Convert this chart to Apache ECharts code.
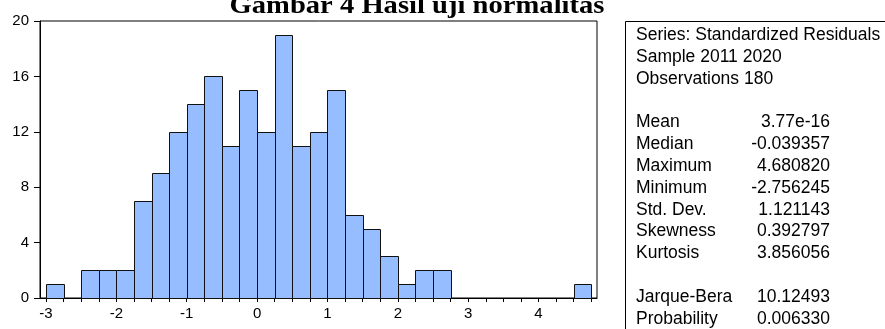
<!DOCTYPE html>
<html><head><meta charset="utf-8">
<script src="https://cdn.jsdelivr.net/npm/echarts@6/dist/echarts.min.js"></script>
<style>html,body{margin:0;padding:0;background:#fff}#c{width:885px;height:329px}</style>
</head><body><div id="c"></div>
<script>
const titleText = "Gambar 4 Hasil uji normalitas";
const binWidth = 0.25;
const binLower = [-3,-2.75,-2.5,-2.25,-2,-1.75,-1.5,-1.25,-1,-0.75,-0.5,-0.25,0,0.25,0.5,0.75,1,1.25,1.5,1.75,2,2.25,2.5,2.75,3,3.25,3.5,3.75,4,4.25,4.5];
const binCounts = [1,0,2,2,2,7,9,12,14,16,11,15,12,19,11,12,15,6,5,3,1,2,2,0,0,0,0,0,0,0,1];
const xTickValues = [-3,-2.75,-2.5,-2.25,-2,-1.75,-1.5,-1.25,-1,-0.75,-0.5,-0.25,0,0.25,0.5,0.75,1,1.25,1.5,1.75,2,2.25,2.5,2.75,3,3.25,3.5,3.75,4,4.25,4.5,4.75];
const xLabelValues = [-3,-2,-1,0,1,2,3,4];
const xMin = -3.085, xMax = 4.831;
const yMin = 0, yMax = 20, yStep = 4;
const headerLines = ["Series: Standardized Residuals", "Sample 2011 2020", "Observations 180"];
const statLabels = ["Mean","Median","Maximum","Minimum","Std. Dev.","Skewness","Kurtosis"];
const statValues = ["3.77e-16","-0.039357","4.680820","-2.756245","1.121143","0.392797","3.856056"];
const testLabels = ["Jarque-Bera","Probability"];
const testValues = ["10.12493","0.006330"];

const chart = echarts.init(document.getElementById('c'), null, {renderer:'canvas'});
const sansFont = '"Liberation Sans", Arial, sans-serif';
const boxFont = '17.5px ' + sansFont;

const graphics = [];
graphics.push({type:'text', x:417, y:6, scaleX:1.1, z:10,
  style:{text:titleText, font:'bold 26px "Liberation Serif", "Times New Roman", serif', fill:'#000', align:'center', verticalAlign:'middle'}});
graphics.push({type:'rect', shape:{x:625.5, y:21.5, width:300, height:330}, style:{fill:'#fff', stroke:'#000', lineWidth:1}});
const lineY0 = 35.4, lineStep = 21.8;
const rows = [];
headerLines.forEach(t => rows.push([t, null]));
rows.push(null);
statLabels.forEach((t,i) => rows.push([t, statValues[i]]));
rows.push(null);
testLabels.forEach((t,i) => rows.push([t, testValues[i]]));
rows.forEach((r, i) => {
  if (!r) return;
  const y = lineY0 + i*lineStep;
  graphics.push({type:'text', x:636, y:y, style:{text:r[0], font:boxFont, fill:'#000', align:'left', verticalAlign:'middle'}});
  if (r[1] !== null) graphics.push({type:'text', x:830, y:y, style:{text:r[1], font:boxFont, fill:'#000', align:'right', verticalAlign:'middle'}});
});

chart.setOption({
  animation:false,
  backgroundColor:'#fff',
  grid:{left:40, top:21, width:557, height:277, show:true, borderColor:'#000', borderWidth:1, backgroundColor:'transparent'},
  xAxis:{type:'value', min:xMin, max:xMax,
    axisLine:{show:true, onZero:false, lineStyle:{color:'#000', width:1}},
    axisTick:{show:true, length:4, lineStyle:{color:'#000'}, customValues:xTickValues},
    axisLabel:{show:true, customValues:xLabelValues, margin:8, fontSize:15, fontFamily:sansFont, color:'#000'},
    splitLine:{show:false}},
  yAxis:{type:'value', min:yMin, max:yMax, interval:yStep,
    axisLine:{show:true, onZero:false, lineStyle:{color:'#000', width:1}},
    axisTick:{show:true, length:6, lineStyle:{color:'#000'}},
    axisLabel:{margin:11, fontSize:15, fontFamily:sansFont, color:'#000'},
    splitLine:{show:false}},
  series:[{type:'custom', clip:false,
    data: binLower.map((v,i) => [v, v+binWidth, binCounts[i]]),
    encode:{x:[0,1], y:2},
    renderItem:function(params, api){
      const c = api.value(2);
      if (!c) return {type:'group', children:[]};
      const p0 = api.coord([api.value(0), c]);
      const p1 = api.coord([api.value(1), 0]);
      const x0 = Math.round(p0[0]), x1 = Math.round(p1[0]);
      const y0 = Math.round(p0[1]), y1 = Math.round(p1[1]);
      return {type:'rect', shape:{x:x0+0.5, y:y0+0.5, width:x1-x0, height:y1-y0},
        style:{fill:'#95BDFF', stroke:'#111', lineWidth:1}};
    }}],
  graphic: graphics
});
</script></body></html>
